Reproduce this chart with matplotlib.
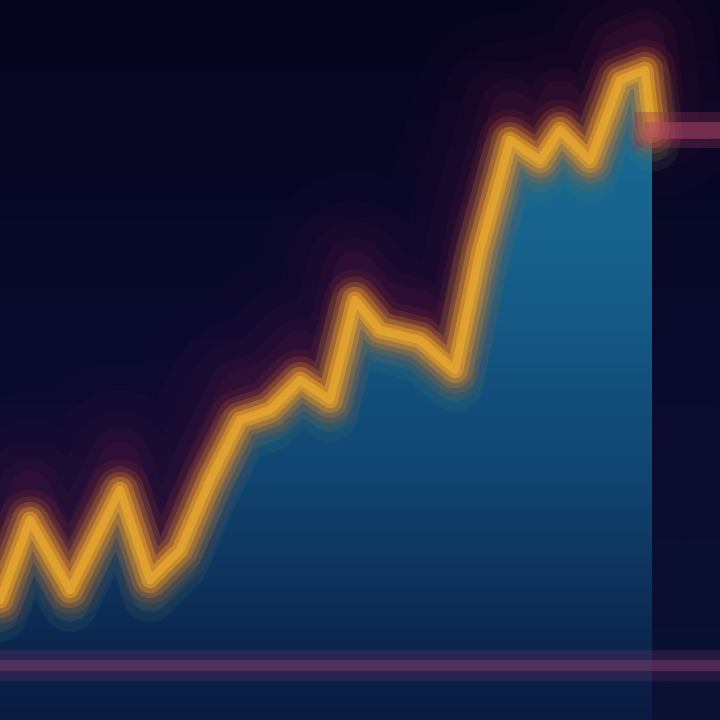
import matplotlib.pyplot as plt
from matplotlib.colors import LinearSegmentedColormap
import numpy as np

# ======================================================
# Data
# ======================================================
days = [0, 30, 70, 120, 150, 180, 210, 240, 270, 300, 330, 355,
        380, 420, 455, 480, 510, 540, 560, 590, 620, 645, 652]
price = [120, 200, 130, 230, 140, 170, 240, 300, 310, 340, 320, 420,
         390, 380, 350, 470, 580, 560, 590, 560, 640, 650, 590]
tail_x = [652, 720]
tail_y = [590, 590]
base_level = 55

# ======================================================
# Plot
# ======================================================
fig = plt.figure(figsize=(7.2, 7.2), dpi=100)
ax = fig.add_axes([0, 0, 1, 1])
ax.set_facecolor("#070726")

x = np.array(days)
y = np.array(price)

# background gradient (dark navy)
grad = np.linspace(0, 1, 256).reshape(-1, 1)
bg = LinearSegmentedColormap.from_list("bg", ["#0a1234", "#0a0a2e", "#05051c"])
ax.imshow(grad, extent=[0, 720, 0, 720], aspect="auto", origin="lower",
          cmap=bg, zorder=0)

# purple / red haze above the line
for w, a in [(140, 0.04), (100, 0.05), (70, 0.07), (45, 0.1), (28, 0.12)]:
    ax.plot(x, y + 30, color="#7a1e48", lw=w, alpha=a,
            solid_capstyle="round", solid_joinstyle="round", zorder=1)

# filled area under the line with vertical gradient
fill_cmap = LinearSegmentedColormap.from_list(
    "fill", ["#0a1a40", "#114470", "#17638e", "#1b6c92"])
img = ax.imshow(grad, extent=[0, 655, 0, 720], aspect="auto", origin="lower",
                cmap=fill_cmap, zorder=2)
poly = ax.fill_between(x, 0, y, color="none")
img.set_clip_path(poly.get_paths()[0], transform=ax.transData)

# greenish transition just under the line
for w, a in [(40, 0.12), (26, 0.15)]:
    ax.plot(x, y - 14, color="#4a8a6a", lw=w, alpha=a,
            solid_capstyle="round", solid_joinstyle="round", zorder=2.5)

# orange glowing line, soft
for w, a, c in [(44, 0.12, "#b04430"), (34, 0.18, "#d06a2a"),
                (26, 0.25, "#e4862a"), (19, 0.35, "#eb9a28"),
                (12, 0.5, "#f0a82a"), (6, 0.6, "#f2b030")]:
    ax.plot(x, y, color=c, lw=w, alpha=a, solid_capstyle="round",
            solid_joinstyle="round", zorder=3)

# short pinkish level line to the right
ax.plot(tail_x, tail_y, color="#8a3056", lw=26, alpha=0.35, zorder=3)
ax.plot(tail_x, tail_y, color="#b04468", lw=12, alpha=0.5, zorder=3)

# faint baseline near the bottom
ax.axhline(base_level, color="#6a2e62", lw=22, alpha=0.3, zorder=4)
ax.axhline(base_level, color="#9a4878", lw=8, alpha=0.35, zorder=4)

ax.set_xlim(0, 720)
ax.set_ylim(0, 720)
ax.axis("off")

fig.savefig("out.png", dpi=100)
